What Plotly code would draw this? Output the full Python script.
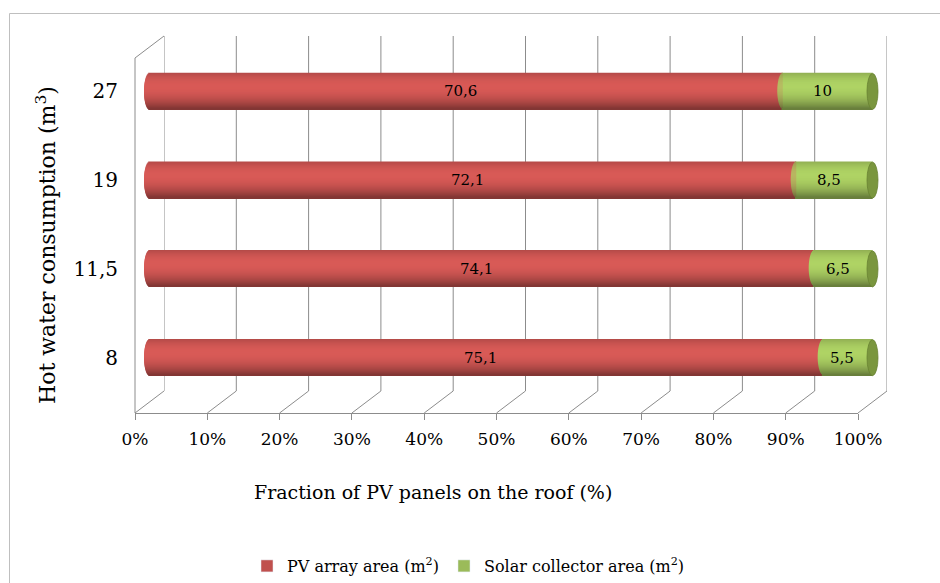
import math
import plotly.graph_objects as go

# Hot water consumption categories (bottom to top) and areas in m²
categories = ["8", "11,5", "19", "27"]
pv_area = [75.1, 74.1, 72.1, 70.6]
collector_area = [5.5, 6.5, 8.5, 10]
x_ticks = [0, 10, 20, 30, 40, 50, 60, 70, 80, 90, 100]

W, H = 940, 583
FONT = "DejaVu Serif"
GRID = "#8c8c8c"
RED = (192, 80, 77)
GREEN = (155, 187, 89)


def px(x):
    return x / W


def py(y):
    return 1 - y / H


# front plane (tick labels), bar plane (mid depth), back wall
FRONT_X = (135, 858)
FRONT_Y = (58, 413)
BACK_X = (164, 887)
BACK_Y = (36, 391)
BAR_X0, BAR_X1 = 149.5, 872.5
BAR_Y = (47, 402)
unit = (BAR_X1 - BAR_X0) / 100.0
pad_l = (BAR_X0 - FRONT_X[0]) / unit
pad_r = (BACK_X[1] - BAR_X1) / unit

totals = [p + c for p, c in zip(pv_area, collector_area)]
pv_pct = [p / t * 100 for p, t in zip(pv_area, totals)]

N_BANDS = 36
BAR_W = 36 / ((BAR_Y[1] - BAR_Y[0]) / len(categories))
CAP = 5.5 / unit  # half-width of the end ellipses, in axis units


def shade(rgb, t):
    # cylinder lighting: highlight slightly above centre, darker bottom
    d = t + 0.25
    f = 1.13 - (0.35 if d < 0 else 0.30) * d * d
    return "rgb(%d,%d,%d)" % tuple(max(0, min(255, int(c * f))) for c in rgb)


def fmt(v):
    return f"{v:g}".replace(".", ",")


fig = go.Figure()

# front subplot carries the percentage axis
fig.add_trace(go.Scatter(x=[None], y=[None], xaxis="x", yaxis="y",
                         showlegend=False, hoverinfo="skip"))

band_h = BAR_W / N_BANDS
for k in range(N_BANDS):
    t = -1 + (2 * k + 1) / N_BANDS
    s = math.sqrt(max(0.0, 1 - t * t))
    off = BAR_W / 2 - (k + 1) * band_h
    red_base = [-CAP * s] * len(categories)
    red_len = [p + CAP * s for p in pv_pct]
    fig.add_trace(go.Bar(
        orientation="h", y=categories, x=red_len, base=red_base,
        offset=off, width=band_h * 1.6, xaxis="x2", yaxis="y2",
        marker=dict(color=shade(RED, t), line=dict(width=0)),
        showlegend=False, hoverinfo="skip"))
    green_base = [p - CAP * s for p in pv_pct]
    green_len = [100 - b for b in green_base]
    fig.add_trace(go.Bar(
        orientation="h", y=categories, x=green_len, base=green_base,
        offset=off, width=band_h * 1.6, xaxis="x2", yaxis="y2",
        marker=dict(color=shade(GREEN, t), line=dict(width=0)),
        showlegend=False, hoverinfo="skip"))

# legend entries
fig.add_trace(go.Bar(name="PV array area (m<sup>2</sup>)", x=[None], y=[None],
                     orientation="h", xaxis="x2", yaxis="y2",
                     marker=dict(color="rgb(192,80,77)")))
fig.add_trace(go.Bar(name="Solar collector area (m<sup>2</sup>)", x=[None], y=[None],
                     orientation="h", xaxis="x2", yaxis="y2",
                     marker=dict(color="rgb(155,187,89)")))

shapes = []
# back wall gridlines and floor diagonals
for v in x_ticks:
    shapes.append(dict(type="line", xref="x3", yref="y3 domain", x0=v, x1=v, y0=0, y1=1,
                       line=dict(color=GRID, width=1), layer="below"))
    fx = FRONT_X[0] + (FRONT_X[1] - FRONT_X[0]) * v / 100
    bx = BACK_X[0] + (BACK_X[1] - BACK_X[0]) * v / 100
    shapes.append(dict(type="line", xref="paper", yref="paper",
                       x0=px(fx), y0=py(FRONT_Y[1]), x1=px(bx), y1=py(BACK_Y[1]),
                       line=dict(color=GRID, width=1), layer="below"))
# left side wall
shapes.append(dict(type="line", xref="paper", yref="paper",
                   x0=px(FRONT_X[0]), y0=py(FRONT_Y[0]), x1=px(FRONT_X[0]), y1=py(FRONT_Y[1]),
                   line=dict(color=GRID, width=1), layer="below"))
shapes.append(dict(type="line", xref="paper", yref="paper",
                   x0=px(FRONT_X[0]), y0=py(FRONT_Y[0]), x1=px(BACK_X[0]), y1=py(BACK_Y[0]),
                   line=dict(color=GRID, width=1), layer="below"))
# chart border
shapes.append(dict(type="rect", xref="paper", yref="paper",
                   x0=px(9.5), y0=py(620), x1=px(980), y1=py(13.5),
                   line=dict(color="#bfbfbf", width=1), layer="below"))
# right end faces of the cylinders
for i in range(len(categories)):
    shapes.append(dict(type="circle", xref="x2", yref="y2",
                       x0=100 - CAP, x1=100 + CAP, y0=i - BAR_W / 2, y1=i + BAR_W / 2,
                       fillcolor="rgb(122,150,62)", line=dict(color="rgb(104,130,50)", width=0.8),
                       layer="above"))

annotations = []
for i, cat in enumerate(categories):
    annotations.append(dict(xref="x2", yref="y2", x=(pv_pct[i] - CAP) / 2 - CAP / 2, y=i,
                            text=fmt(pv_area[i]), showarrow=False,
                            font=dict(family=FONT, size=15, color="black")))
    annotations.append(dict(xref="x2", yref="y2", x=(pv_pct[i] + 100) / 2 - CAP, y=i,
                            text=fmt(collector_area[i]), showarrow=False,
                            font=dict(family=FONT, size=15, color="black")))
annotations.append(dict(xref="paper", yref="paper", x=px(433), y=py(492),
                        xanchor="center", yanchor="middle",
                        text="Fraction of PV panels on the roof (%)", showarrow=False,
                        font=dict(family=FONT, size=19, color="black")))
annotations.append(dict(xref="paper", yref="paper", x=px(46), y=py(245), textangle=-90,
                        xanchor="center", yanchor="middle",
                        text="Hot water consumption (m<sup>3</sup>)", showarrow=False,
                        font=dict(family=FONT, size=22, color="black")))

fig.update_layout(
    width=W, height=H,
    margin=dict(l=0, r=0, t=0, b=0, autoexpand=False),
    paper_bgcolor="white", plot_bgcolor="rgba(0,0,0,0)",
    barmode="overlay",
    font=dict(family=FONT, color="black"),
    xaxis=dict(domain=[px(FRONT_X[0]), px(FRONT_X[1])], range=[0, 100], anchor="y",
               tickvals=x_ticks, ticktext=[f"{v}%" for v in x_ticks],
               ticks="outside", ticklen=6, tickcolor=GRID, showline=True, linecolor=GRID,
               showgrid=False, zeroline=False, tickfont=dict(size=17, family=FONT),
               ticklabelstandoff=5, automargin=False, fixedrange=True),
    yaxis=dict(domain=[py(FRONT_Y[1]), py(FRONT_Y[0])], range=[0, 1], anchor="x",
               showgrid=False, zeroline=False, showline=False, showticklabels=False,
               ticks="", automargin=False, fixedrange=True),
    xaxis2=dict(domain=[px(FRONT_X[0]), px(BACK_X[1])], range=[-pad_l, 100 + pad_r],
                anchor="y2", visible=False, automargin=False, fixedrange=True),
    yaxis2=dict(domain=[py(BAR_Y[1]), py(BAR_Y[0])], type="category",
                categoryorder="array", categoryarray=categories, range=[-0.5, 3.5],
                anchor="x2", showgrid=False, showline=False, zeroline=False, ticks="",
                ticklabelstandoff=16, tickfont=dict(size=20, family=FONT),
                automargin=False, fixedrange=True),
    xaxis3=dict(domain=[px(BACK_X[0]), px(BACK_X[1])], range=[0, 100], anchor="y3",
                visible=False, automargin=False, fixedrange=True),
    yaxis3=dict(domain=[py(BACK_Y[1]), py(BACK_Y[0])], range=[0, 1], anchor="x3",
                visible=False, automargin=False, fixedrange=True),
    shapes=shapes,
    annotations=annotations,
    legend=dict(orientation="h", x=px(247), y=py(549), xanchor="left", yanchor="top",
                font=dict(family=FONT, size=16), bgcolor="rgba(0,0,0,0)"),
    showlegend=True,
)

fig.write_html("out.html")
